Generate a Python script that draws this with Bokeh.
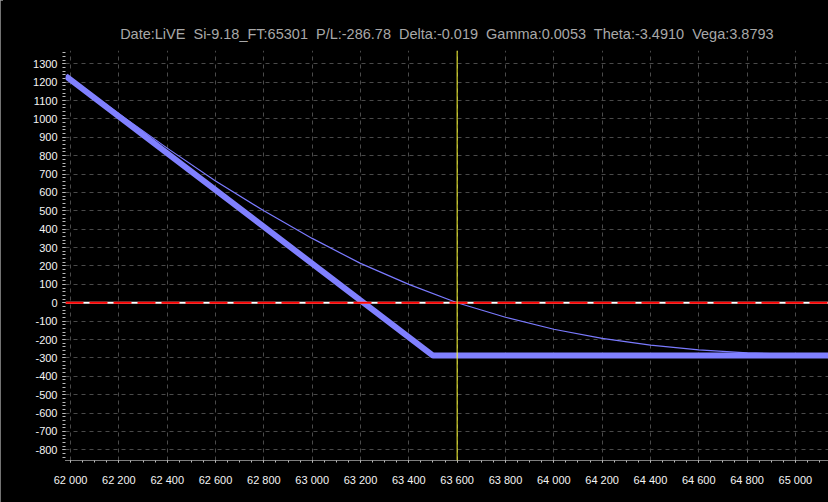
from bokeh.plotting import figure
from bokeh.models import FixedTicker, Span, Range1d, GlobalInlineStyleSheet
from bokeh.embed import file_html
from bokeh.resources import INLINE

# ---- data -------------------------------------------------------------
title_text = ("Date:LiVE\u00a0 Si-9.18_FT:65301\u00a0 P/L:-286.78\u00a0 Delta:-0.019\u00a0 "
              "Gamma:0.0053\u00a0 Theta:-3.4910\u00a0 Vega:3.8793")

price = [61980, 62000, 62200, 62400, 62600, 62800, 63000, 63200, 63400,
         63600, 63800, 64000, 64200, 64400, 64600, 64800, 65000, 65137]
pl_now = [1239, 1220, 1028, 841, 662, 500, 350, 214, 100,
          0, -79, -144, -194, -230, -256, -273, -281, -285]

expiry_price = [61980, 63500, 65137]
expiry_pl = [1233, -287, -287]

zero_level = 0
marker_price = 63600

x_ticks = list(range(62000, 65001, 200))
x_tick_labels = ["62 000", "62 200", "62 400", "62 600", "62 800", "63 000",
                 "63 200", "63 400", "63 600", "63 800", "64 000", "64 200",
                 "64 400", "64 600", "64 800", "65 000"]
y_ticks = list(range(-800, 1301, 100))
y_tick_labels = [str(v) for v in y_ticks]

x_min, x_max = 61979, 65137
y_min, y_max = -858, 1372

# ---- figure -----------------------------------------------------------
p = figure(width=828, height=502, output_backend="svg", toolbar_location=None,
           x_range=Range1d(x_min, x_max), y_range=Range1d(y_min, y_max),
           min_border_left=65, min_border_right=0, min_border_top=50,
           min_border_bottom=42)
p.stylesheets = [GlobalInlineStyleSheet(
    css="body { background: linear-gradient(to right, #9a9a9a 0px, #9a9a9a 3px, #000 3px, #000 100%); }")]

p.background_fill_color = "#000000"
p.border_fill_color = "#000000"
p.outline_line_color = None

p.title.text = title_text
p.title.align = "center"
p.title.vertical_align = "middle"
p.title.text_color = "#a8a8a8"
p.title.text_font = "Liberation Sans"
p.title.text_font_size = "14.5px"
p.title.text_font_style = "normal"
p.title.standoff = 16

xt = FixedTicker(ticks=x_ticks, minor_ticks=list(range(61950, 65200, 50)))
yt = FixedTicker(ticks=y_ticks, minor_ticks=list(range(-840, 1380, 20)))

xa = p.xaxis[0]
xa.ticker = xt
xa.major_label_overrides = {t: l for t, l in zip(x_ticks, x_tick_labels)}
xa.axis_line_color = "#ffffff"
xa.axis_line_dash = "1 1"
xa.major_tick_in = 0
xa.major_tick_out = 7
xa.major_tick_line_color = "#bbbbbb"
xa.major_tick_line_dash = "2 5"
xa.major_tick_line_dash_offset = 2
xa.minor_tick_in = 0
xa.minor_tick_out = 7
xa.minor_tick_line_color = "#bbbbbb"
xa.minor_tick_line_dash = "2 5"
xa.minor_tick_line_dash_offset = 2
xa.major_label_standoff = 6
xa.major_label_text_color = "#f4f4f4"
xa.major_label_text_font = "Liberation Sans"
xa.major_label_text_font_size = "11px"

ya = p.yaxis[0]
ya.ticker = yt
ya.major_label_overrides = {t: l for t, l in zip(y_ticks, y_tick_labels)}
ya.axis_line_color = None
ya.major_tick_in = 0
ya.major_tick_out = 7
ya.major_tick_line_color = "#cccccc"
ya.major_tick_line_dash = "3 4"
ya.major_tick_line_dash_offset = 3
ya.minor_tick_in = 0
ya.minor_tick_out = 3
ya.minor_tick_line_color = "#bbbbbb"
ya.major_label_standoff = 1
ya.major_label_text_color = "#f4f4f4"
ya.major_label_text_font = "Liberation Sans"
ya.major_label_text_font_size = "11px"

for g in (p.xgrid[0], p.ygrid[0]):
    g.grid_line_color = "#4a4a4a"
    g.grid_line_dash = "4 4"
    g.grid_line_width = 1

# ---- marks ------------------------------------------------------------
p.line(price, pl_now, line_color="#7a7aff", line_width=1.2)
p.line(expiry_price, expiry_pl, line_color="#8080ff", line_width=6)

p.add_layout(Span(location=zero_level, dimension="width", line_color="#ffffff", line_width=2))
p.add_layout(Span(location=zero_level, dimension="width", line_color="#ff0000", line_width=2,
                  line_dash="18 6"))
p.add_layout(Span(location=marker_price, dimension="height", line_color="#ffff33", line_width=1))

open("out.html", "w").write(file_html(p, INLINE))
